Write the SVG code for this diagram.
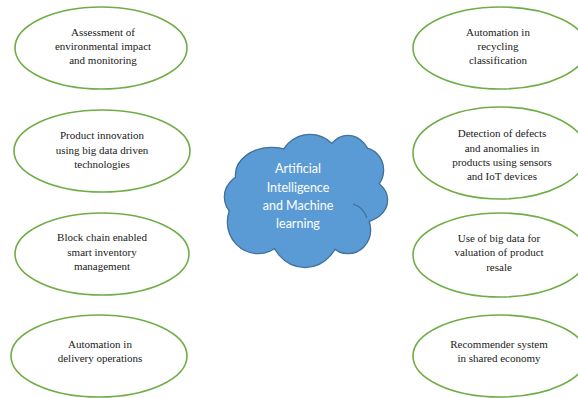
<svg xmlns="http://www.w3.org/2000/svg" width="578" height="398" viewBox="0 0 578 398">
<style>
.ell{fill:#ffffff;stroke:#70AD47;stroke-width:1.6}
.t{font-family:"Liberation Serif","Times New Roman",serif;font-size:11px;fill:#1a1a1a;text-anchor:middle}
.ct{font-family:Lato,"Liberation Sans",sans-serif;font-size:12.5px;fill:#ffffff;text-anchor:middle}
.cs{fill:#41719C;stroke:#41719C;stroke-width:2.6}
.cf{fill:#5B9BD5}
.ci{fill:none;stroke:#41719C;stroke-width:1.2}
</style>
<rect width="578" height="398" fill="#ffffff"/>
<g id="connectors"/>
<g id="cloud">
<g class="cs">
<ellipse cx="272" cy="175" rx="36" ry="27"/>
<ellipse cx="310" cy="165" rx="30" ry="30"/>
<ellipse cx="348" cy="162" rx="22" ry="26"/>
<ellipse cx="362" cy="170" rx="21" ry="22"/>
<ellipse cx="360" cy="200" rx="27" ry="22"/>
<ellipse cx="348" cy="230" rx="22" ry="23"/>
<ellipse cx="305" cy="225" rx="36" ry="42"/>
<ellipse cx="258" cy="222" rx="30" ry="31"/>
<ellipse cx="255" cy="197" rx="30" ry="25"/>
</g>
<g class="cf">
<ellipse cx="272" cy="175" rx="36" ry="27"/>
<ellipse cx="310" cy="165" rx="30" ry="30"/>
<ellipse cx="348" cy="162" rx="22" ry="26"/>
<ellipse cx="362" cy="170" rx="21" ry="22"/>
<ellipse cx="360" cy="200" rx="27" ry="22"/>
<ellipse cx="348" cy="230" rx="22" ry="23"/>
<ellipse cx="305" cy="225" rx="36" ry="42"/>
<ellipse cx="258" cy="222" rx="30" ry="31"/>
<ellipse cx="255" cy="197" rx="30" ry="25"/>
<ellipse cx="305" cy="200" rx="55" ry="45"/>
</g>
<path class="ci" d="M353,204 Q363,207 367,218"/>
<text class="ct" x="298" y="173">Artificial</text>
<text class="ct" x="298" y="191.5">Intelligence</text>
<text class="ct" x="298" y="210">and Machine</text>
<text class="ct" x="298" y="228">learning</text>
</g>
<g id="n1">
<ellipse class="ell" cx="101" cy="48" rx="86" ry="41"/>
<text class="t" x="103" y="36">Assessment of</text>
<text class="t" x="103" y="50">environmental impact</text>
<text class="t" x="103" y="64">and monitoring</text>
</g>
<g id="n2">
<ellipse class="ell" cx="102" cy="151" rx="88" ry="41"/>
<text class="t" x="102" y="139">Product innovation</text>
<text class="t" x="102" y="153.5">using big data driven</text>
<text class="t" x="102" y="168">technologies</text>
</g>
<g id="n3">
<ellipse class="ell" cx="102" cy="254" rx="87" ry="41"/>
<text class="t" x="102" y="241">Block chain enabled</text>
<text class="t" x="102" y="255.5">smart inventory</text>
<text class="t" x="102" y="270">management</text>
</g>
<g id="n4">
<ellipse class="ell" cx="99" cy="356" rx="88" ry="41"/>
<text class="t" x="100" y="348">Automation in</text>
<text class="t" x="100" y="362">delivery operations</text>
</g>
<g id="n5">
<ellipse class="ell" cx="500" cy="48" rx="87" ry="41"/>
<text class="t" x="498" y="36">Automation in</text>
<text class="t" x="498" y="50">recycling</text>
<text class="t" x="498" y="64">classification</text>
</g>
<g id="n6">
<ellipse class="ell" cx="500" cy="153" rx="87" ry="46"/>
<text class="t" x="502" y="137">Detection of defects</text>
<text class="t" x="502" y="151.5">and anomalies in</text>
<text class="t" x="502" y="166">products using sensors</text>
<text class="t" x="502" y="180">and IoT devices</text>
</g>
<g id="n7">
<ellipse class="ell" cx="500" cy="255" rx="87" ry="42"/>
<text class="t" x="499" y="242">Use of big data for</text>
<text class="t" x="499" y="256">valuation of product</text>
<text class="t" x="499" y="271">resale</text>
</g>
<g id="n8">
<ellipse class="ell" cx="500" cy="356" rx="87" ry="41"/>
<text class="t" x="499" y="348">Recommender system</text>
<text class="t" x="499" y="362">in shared economy</text>
</g>
</svg>
